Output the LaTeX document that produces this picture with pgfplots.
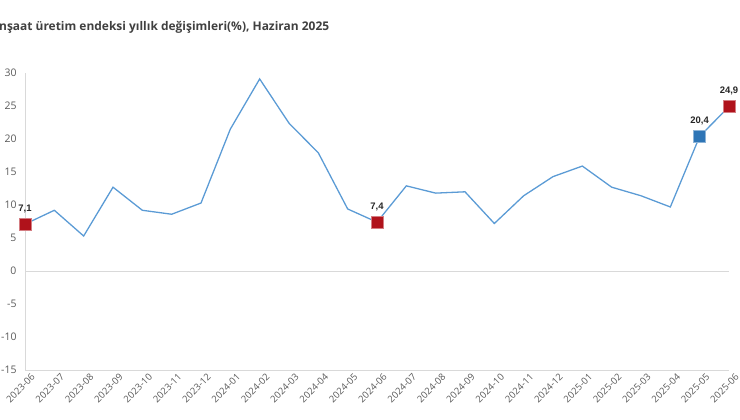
\documentclass[border=0pt]{standalone}
\usepackage{pgfplots}
\pgfplotsset{compat=1.18}
\usepackage{fontspec}
\setmainfont{Open Sans}
\newfontfamily\lblfont{Liberation Sans}
\definecolor{lineblue}{RGB}{91,155,213}
\definecolor{mkred}{RGB}{176,18,27}
\definecolor{mkblue}{RGB}{46,117,182}
\definecolor{gridgray}{RGB}{217,217,217}
\definecolor{ticktext}{RGB}{89,89,89}
\definecolor{titletext}{RGB}{64,64,64}

\pgfplotstableread{
idx val
0 7.1
1 9.2
2 5.3
3 12.7
4 9.2
5 8.6
6 10.3
7 21.5
8 29.1
9 22.4
10 17.9
11 9.4
12 7.4
13 12.9
14 11.8
15 12.0
16 7.2
17 11.4
18 14.3
19 15.9
20 12.7
21 11.4
22 9.7
23 20.4
24 24.9
}\series

\begin{document}
\begin{tikzpicture}
\begin{axis}[
    scale only axis,
    width=704bp, height=297bp,
    at={(25bp,50bp)}, anchor=south west,
    xmin=0, xmax=24, ymin=-15, ymax=30,
    axis x line*=bottom, axis y line*=left,
    axis line style={gridgray, line width=0.8pt},
    ytick={-15,-10,...,30},
    xtick={0,...,24},
    xticklabels={2023-06,2023-07,2023-08,2023-09,2023-10,2023-11,2023-12,2024-01,2024-02,2024-03,2024-04,2024-05,2024-06,2024-07,2024-08,2024-09,2024-10,2024-11,2024-12,2025-01,2025-02,2025-03,2025-04,2025-05,2025-06},
    major tick length=0pt,
    tick style={draw=none},
    /pgf/number format/assume math mode=true,
    yticklabel style={font=\fontsize{10.5}{12}\selectfont, text=ticktext, xshift=-5bp},
    xticklabel style={font=\fontsize{9.5}{11}\selectfont, text=ticktext, rotate=45, anchor=north east, xshift=3bp, yshift=-5bp, inner sep=1pt},
    extra y ticks={0},
    extra y tick labels={},
    extra y tick style={grid=major, major grid style={gridgray, line width=0.8pt}},
    clip=false,
]
\addplot[lineblue, line width=1.3pt, mark=none] table[x=idx, y=val] {\series};
\addplot[only marks, mark=square*, mark size=6bp,
    mark options={fill=mkred, draw=mkred!55!white, line width=0.6pt},
    nodes near coords,
    every node near coord/.append style={font=\lblfont\bfseries\fontsize{9.5}{11}\selectfont, text=black!85, yshift=8bp},
    /pgf/number format/.cd, fixed, fixed zerofill, precision=1, use comma]
    coordinates {(0,7.1) (12,7.4) (24,24.9)};
\addplot[only marks, mark=square*, mark size=6bp,
    mark options={fill=mkblue, draw=mkblue!55!white, line width=0.6pt},
    nodes near coords,
    every node near coord/.append style={font=\lblfont\bfseries\fontsize{9.5}{11}\selectfont, text=black!85, yshift=8bp},
    /pgf/number format/.cd, fixed, fixed zerofill, precision=1, use comma]
    coordinates {(23,20.4)};
\end{axis}
\node[anchor=base west, font=\bfseries\fontsize{12}{14}\selectfont, text=titletext, inner sep=0pt] at (-5bp,389bp) {İnşaat üretim endeksi yıllık değişimleri(\%), Haziran 2025};
\pgfresetboundingbox
\path[use as bounding box] (0,0) rectangle (740bp,420bp);
\end{tikzpicture}
\end{document}
